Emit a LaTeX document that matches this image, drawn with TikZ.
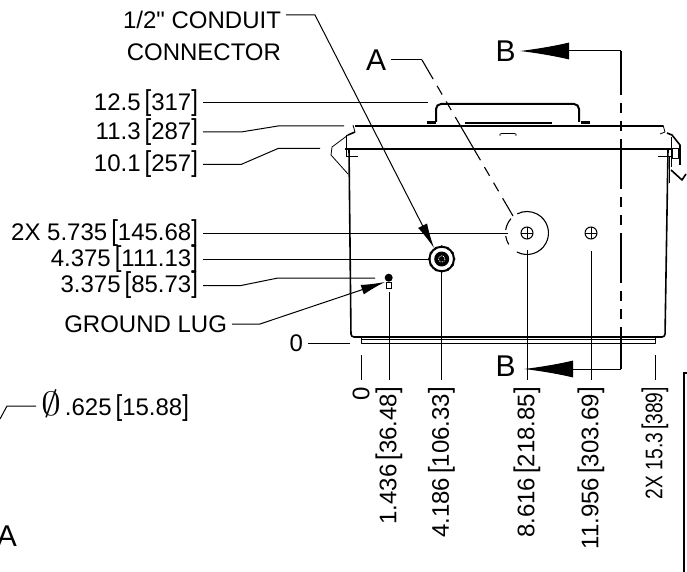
\documentclass[tikz,border=0pt]{standalone}
\usepackage{fontspec}
\setmainfont[Ligatures=TeXOff]{Liberation Sans}
\usetikzlibrary{arrows.meta}
\newcommand{\brkl}{\scalebox{1}[1.2]{[}}
\newcommand{\brkr}{\scalebox{1}[1.2]{]}}
\newcommand{\dimlbl}[2]{#1\,\brkl#2\brkr}
\tikzset{
  lbl/.style={inner sep=0pt,outer sep=5pt,font=\fontsize{24}{28}\selectfont},
  dimlbl/.style={lbl,anchor=east},
  vlbl/.style={lbl,rotate=90,anchor=east,outer sep=0pt},
  sect/.style={inner sep=0pt,font=\fontsize{30}{32}\selectfont},
  dimline/.style={line width=1pt},
  phantomline/.style={line width=1.1pt,dash pattern=on 50pt off 8pt on 10pt off 8pt on 10pt off 8pt},
  heavy/.style={line width=1.6pt,line join=round},
  thinpart/.style={line width=0.8pt,line join=round}
}
\begin{document}
\begin{tikzpicture}[x=1pt,y=-1pt]
  \useasboundingbox (0,0) rectangle (687,572);
  % enclosure body and base
  \draw[heavy,rounded corners=3pt] (349,149)--(351,337)--(665,337)--(668,149);
  \draw[thinpart,fill=white] (361,337) rectangle (655,343);
  \draw[thinpart] (361,339.5)--(655,339.5);
  % lid
  \draw[heavy] (355,126)--(427,126);
  \draw[heavy] (590,126)--(663,126);
  \draw[heavy] (345,149)--(671,149);
  \draw[line width=1.3pt] (427,126)--(590,126);
  \draw[line width=2pt] (465,123.5)--(552,123.5);
  \draw[thinpart] (500,136)--(500,134)--(502,133.5)--(514,133.5)--(516,134)--(516,136);
  % handle
  \draw[line width=2pt,rounded corners=5pt] (436,122)--(436,104)--(579,104)--(579,122);
  \draw[line width=3.5pt] (427,122.5)--(436,122.5);
  \draw[line width=3.5pt] (581,122.5)--(590,122.5);
  % left latch
  \draw[thinpart] (353,125)--(355,132);
  \draw[heavy] (355,132)--(348,135);
  \draw[thinpart] (348,135)--(332,147)--(331,155)--(348,174);
  \draw[thinpart] (346,135)--(346,156);
  \draw[thinpart] (346,156)--(358,156);
  % right latch
  \draw[thinpart] (663,125)--(665,132)--(660,134);
  \draw[heavy] (667,133)--(672,135)--(680,145)--(680,165);
  \draw[thinpart] (658,156)--(672,156);
  \draw[thinpart] (672,148) rectangle (678,158);
  \draw[thinpart] (671,137)--(671,167);
  \draw[thinpart] (669,157)--(669,183);
  \draw[heavy] (671,170)--(682,180)--(686,174);
  % holes
  \draw[line width=1pt] (527,233) circle[radius=6];
  \draw[line width=0.7pt] (521,233)--(533,233) (527,227)--(527,239);
  \draw[line width=1pt] (591,233) circle[radius=6];
  \draw[line width=0.7pt] (585,233)--(597,233) (591,227)--(591,239);
  \draw[line width=1.1pt] (527,233) ++(118:21.5) arc[start angle=118,end angle=-117,radius=21.5];
  \draw[line width=1.1pt] (527,233) ++(148:21.5) arc[start angle=148,end angle=172,radius=21.5];
  \draw[line width=1.1pt] (527,233) ++(188:21.5) arc[start angle=188,end angle=222,radius=21.5];
  % conduit connector and ground lug
  \draw[line width=2pt] (441.7,259) circle[radius=12.3];
  \foreach \a in {0,30,...,330}
    \fill (441.7,259) ++(\a:12.3) circle[radius=1.5];
  \fill (441.7,259) circle[radius=7.5];
  \draw[white,line width=0.8pt,densely dotted] (441.7,259) circle[radius=3.2];
  \fill (388.7,277.7) circle[radius=4];
  \draw[line width=0.7pt] (386.5,282) rectangle (391,288);

  % left labels
  \node[lbl,anchor=east] (cond1) at (286,20) {1/2" CONDUIT};
  \node[lbl,anchor=east] (cond2) at (286,52) {CONNECTOR};
  \node[dimlbl] (h317) at (203,103) {\dimlbl{12.5}{317}};
  \node[dimlbl] (h287) at (203,132) {\dimlbl{11.3}{287}};
  \node[dimlbl] (h257) at (203,164.5) {\dimlbl{10.1}{257}};
  \node[dimlbl] (h145) at (203,233) {\dimlbl{2X 5.735}{145.68}};
  \node[dimlbl] (h111) at (203,259) {\dimlbl{4.375}{111.13}};
  \node[dimlbl] (h85) at (203,285.5) {\dimlbl{3.375}{85.73}};
  \node[lbl,anchor=east] (lug) at (232,324) {GROUND LUG};
  \node[lbl,anchor=east] (zeroh) at (308,343) {0};
  \node[lbl,anchor=west] (dia) at (36,406) {\scalebox{1.6}[1.35]{$\emptyset$}\,.625\,\brkl15.88\brkr};

  % bottom labels
  \node[vlbl] (zerov) at (361,387) {0};
  \node[vlbl] (w36) at (389,387) {\dimlbl{1.436}{36.48}};
  \node[vlbl] (w106) at (441.5,387) {\dimlbl{4.186}{106.33}};
  \node[vlbl] (w218) at (527,387) {\dimlbl{8.616}{218.85}};
  \node[vlbl] (w303) at (591,387) {\dimlbl{11.956}{303.69}};
  \node[vlbl] (w389) at (655,387) {\scalebox{0.8}[1]{2X 15.3\,\brkl389\brkr}};

  % section letters
  \node[sect] (secA) at (376,60) {A};
  \node[sect] (secAb) at (7,536) {A};
  \node[sect] (secBt) at (505.5,51) {B};
  \node[sect] (secBb) at (505.5,366) {B};

  % end points of the leaders
  \coordinate (e317) at (428,103);
  \coordinate (e287) at (344,126);
  \coordinate (e257) at (320,148.5);
  \coordinate (e145) at (508,233);
  \coordinate (e111) at (429,259);
  \coordinate (e85) at (375,278);
  \coordinate (elug) at (385,282);
  \coordinate (econd) at (434,248);
  \coordinate (ezero) at (350,343);
  \draw[dimline] (h317.east)--(e317);
  \draw[dimline] (h287.east)--(241,132)--(278,126)--(e287);
  \draw[dimline] (h257.east)--(241,164.5)--(278,148.5)--(e257);
  \draw[dimline] (h145.east)--(e145);
  \draw[dimline] (h111.east)--(e111);
  \draw[dimline] (h85.east)--(241,285.5)--(278,278)--(e85);
  \draw[dimline] (zeroh.east)--(ezero);
  \draw[dimline,-{Latex[length=24pt,width=10pt]}] (lug.east)--(260,324)--(elug);
  \draw[dimline,-{Latex[length=25pt,width=10pt]}] (cond1.east |- 0,15)--(315,15)--(econd);
  \coordinate (ediaa) at (0,419);
  \draw[dimline] (dia.west)--(7,406)--(ediaa);

  % witness lines
  \draw[dimline] (361,355)--(361,380);
  \draw[dimline] (389,292)--(389,380);
  \draw[dimline] (441.5,272)--(441.5,380);
  \draw[dimline] (527,250)--(527,380);
  \draw[dimline] (591,251)--(591,380);
  \draw[dimline] (655,355)--(655,380);

  % section lines
  \coordinate (ca) at (422,60);
  \coordinate (ea) at (513,216);
  \draw[dimline] (secA.east)++(5,0)--(ca);
  \draw[phantomline,dash phase=28pt] (ca)--(ea);
  \coordinate (tipt) at (520,51);
  \coordinate (tipb) at (524,369);
  \draw[line width=1pt,-{Latex[length=49pt,width=17pt]}] (621,51)--(tipt);
  \draw[line width=1pt,-{Latex[length=49pt,width=17pt]}] (621,369)--(tipb);
  \draw[phantomline,dash phase=6pt] (621,51)--(621,369);

  % next view
  \draw[line width=1.5pt] (687,373)--(684,373)--(684,572);
\end{tikzpicture}
\end{document}
